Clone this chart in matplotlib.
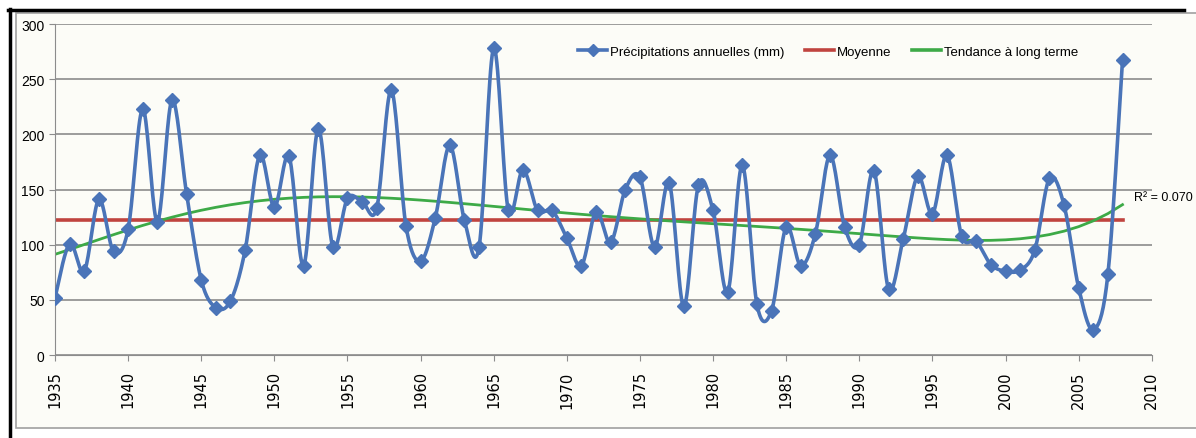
import numpy as np
import matplotlib
matplotlib.use('Agg')
import matplotlib.pyplot as plt
from matplotlib.lines import Line2D

# données
years = list(range(1935, 2009))
precip = [52, 101, 76, 141, 94, 114, 223, 121, 231, 146,
          68, 43, 49, 95, 181, 134, 180, 81, 205, 98,
          142, 139, 133, 240, 117, 85, 124, 190, 122, 98,
          278, 131, 168, 131, 131, 106, 81, 130, 102, 150,
          161, 98, 156, 44, 154, 131, 57, 172, 46, 40,
          116, 81, 110, 181, 116, 100, 167, 60, 105, 162,
          128, 181, 108, 103, 82, 76, 77, 95, 160, 136,
          61, 23, 73, 267]
r2_label = 'R² = 0.070'
xticks = list(range(1935, 2011, 5))
yticks = list(range(0, 301, 50))

blue = '#4a74b8'
red = '#c0443f'
green = '#3daa47'
bg = '#fcfcf7'
narrow = ['Liberation Sans', 'DejaVu Sans']


def smooth(x, y, n=20):
    # courbe lissée façon Excel (bezier de Catmull-Rom)
    x = np.asarray(x, float)
    y = np.asarray(y, float)
    xs, ys = [], []
    for i in range(len(x) - 1):
        x0, y0 = (x[i - 1], y[i - 1]) if i > 0 else (x[i], y[i])
        x3, y3 = (x[i + 2], y[i + 2]) if i + 2 < len(x) else (x[i + 1], y[i + 1])
        p0 = np.array([x[i], y[i]])
        p3 = np.array([x[i + 1], y[i + 1]])
        c1 = p0 + (p3 - np.array([x0, y0])) / 6
        c2 = p3 - (np.array([x3, y3]) - p0) / 6
        t = np.linspace(0, 1, n)[:, None]
        pts = (1 - t) ** 3 * p0 + 3 * (1 - t) ** 2 * t * c1 + 3 * (1 - t) * t ** 2 * c2 + t ** 3 * p3
        xs.extend(pts[:, 0])
        ys.extend(pts[:, 1])
    return np.array(xs), np.array(ys)


fig = plt.figure(figsize=(11.96, 4.39), dpi=100)
fig.patch.set_facecolor('white')

# cadre extérieur
rect = plt.Rectangle((0.013, 0.022), 1.0, 0.945, transform=fig.transFigure,
                     facecolor=bg, edgecolor='#a0a0a0', lw=1.2, zorder=-10)
fig.add_artist(rect)
fig.add_artist(Line2D([0.007, 0.99], [0.975, 0.975], color='black', lw=2.5,
                      transform=fig.transFigure, zorder=-5))
fig.add_artist(Line2D([0.008, 0.008], [0.0, 0.977], color='black', lw=2.5,
                      transform=fig.transFigure, zorder=-5))

ax = fig.add_axes([0.046, 0.189, 0.917, 0.754])
ax.patch.set_alpha(0)

mean = np.mean(precip)
coef = np.polyfit(np.array(years) - 1970, precip, 6)
trend = np.polyval(coef, np.array(years) - 1970)

sx, sy = smooth(years, precip)
ax.plot(sx, sy, color=blue, lw=2.6, zorder=3)
ax.plot(years, precip, linestyle='none', marker='D', ms=7, color=blue, zorder=4)
ax.plot([years[0], years[-1]], [mean, mean], color=red, lw=2.6, zorder=2)
ax.plot(years, trend, color=green, lw=2, zorder=2)

ax.text(2008.8, 143, r2_label, fontsize=9, family=narrow, va='center', ha='left')

ax.set_xlim(1935, 2010)
ax.set_ylim(0, 300)
ax.set_xticks(xticks)
ax.set_yticks(yticks)
ax.set_xticklabels([str(v) for v in xticks], rotation=90, fontsize=10.5)
ax.set_yticklabels([str(v) for v in yticks], fontsize=10, family=narrow)
ax.grid(axis='y', color='#8c8c8c', lw=1.2)
ax.set_axisbelow(True)
for s in ['top', 'right']:
    ax.spines[s].set_visible(False)
ax.spines['left'].set_color('#8c8c8c')
ax.spines['bottom'].set_color('#8c8c8c')
ax.tick_params(axis='both', color='#8c8c8c', length=4)
ax.tick_params(axis='x', pad=7)

handles = [Line2D([], [], color=blue, lw=2.6, marker='D', ms=6),
           Line2D([], [], color=red, lw=2.6),
           Line2D([], [], color=green, lw=2.6)]
labels = ['Précipitations annuelles (mm)', 'Moyenne', 'Tendance à long terme']
ax.legend(handles, labels, loc='upper center', bbox_to_anchor=(0.705, 0.97), ncol=3,
          frameon=False, columnspacing=1.6, handlelength=2.2, handletextpad=0.2,
          prop={'family': narrow, 'size': 9.5})

fig.savefig('out.png', dpi=100, facecolor=fig.get_facecolor())
